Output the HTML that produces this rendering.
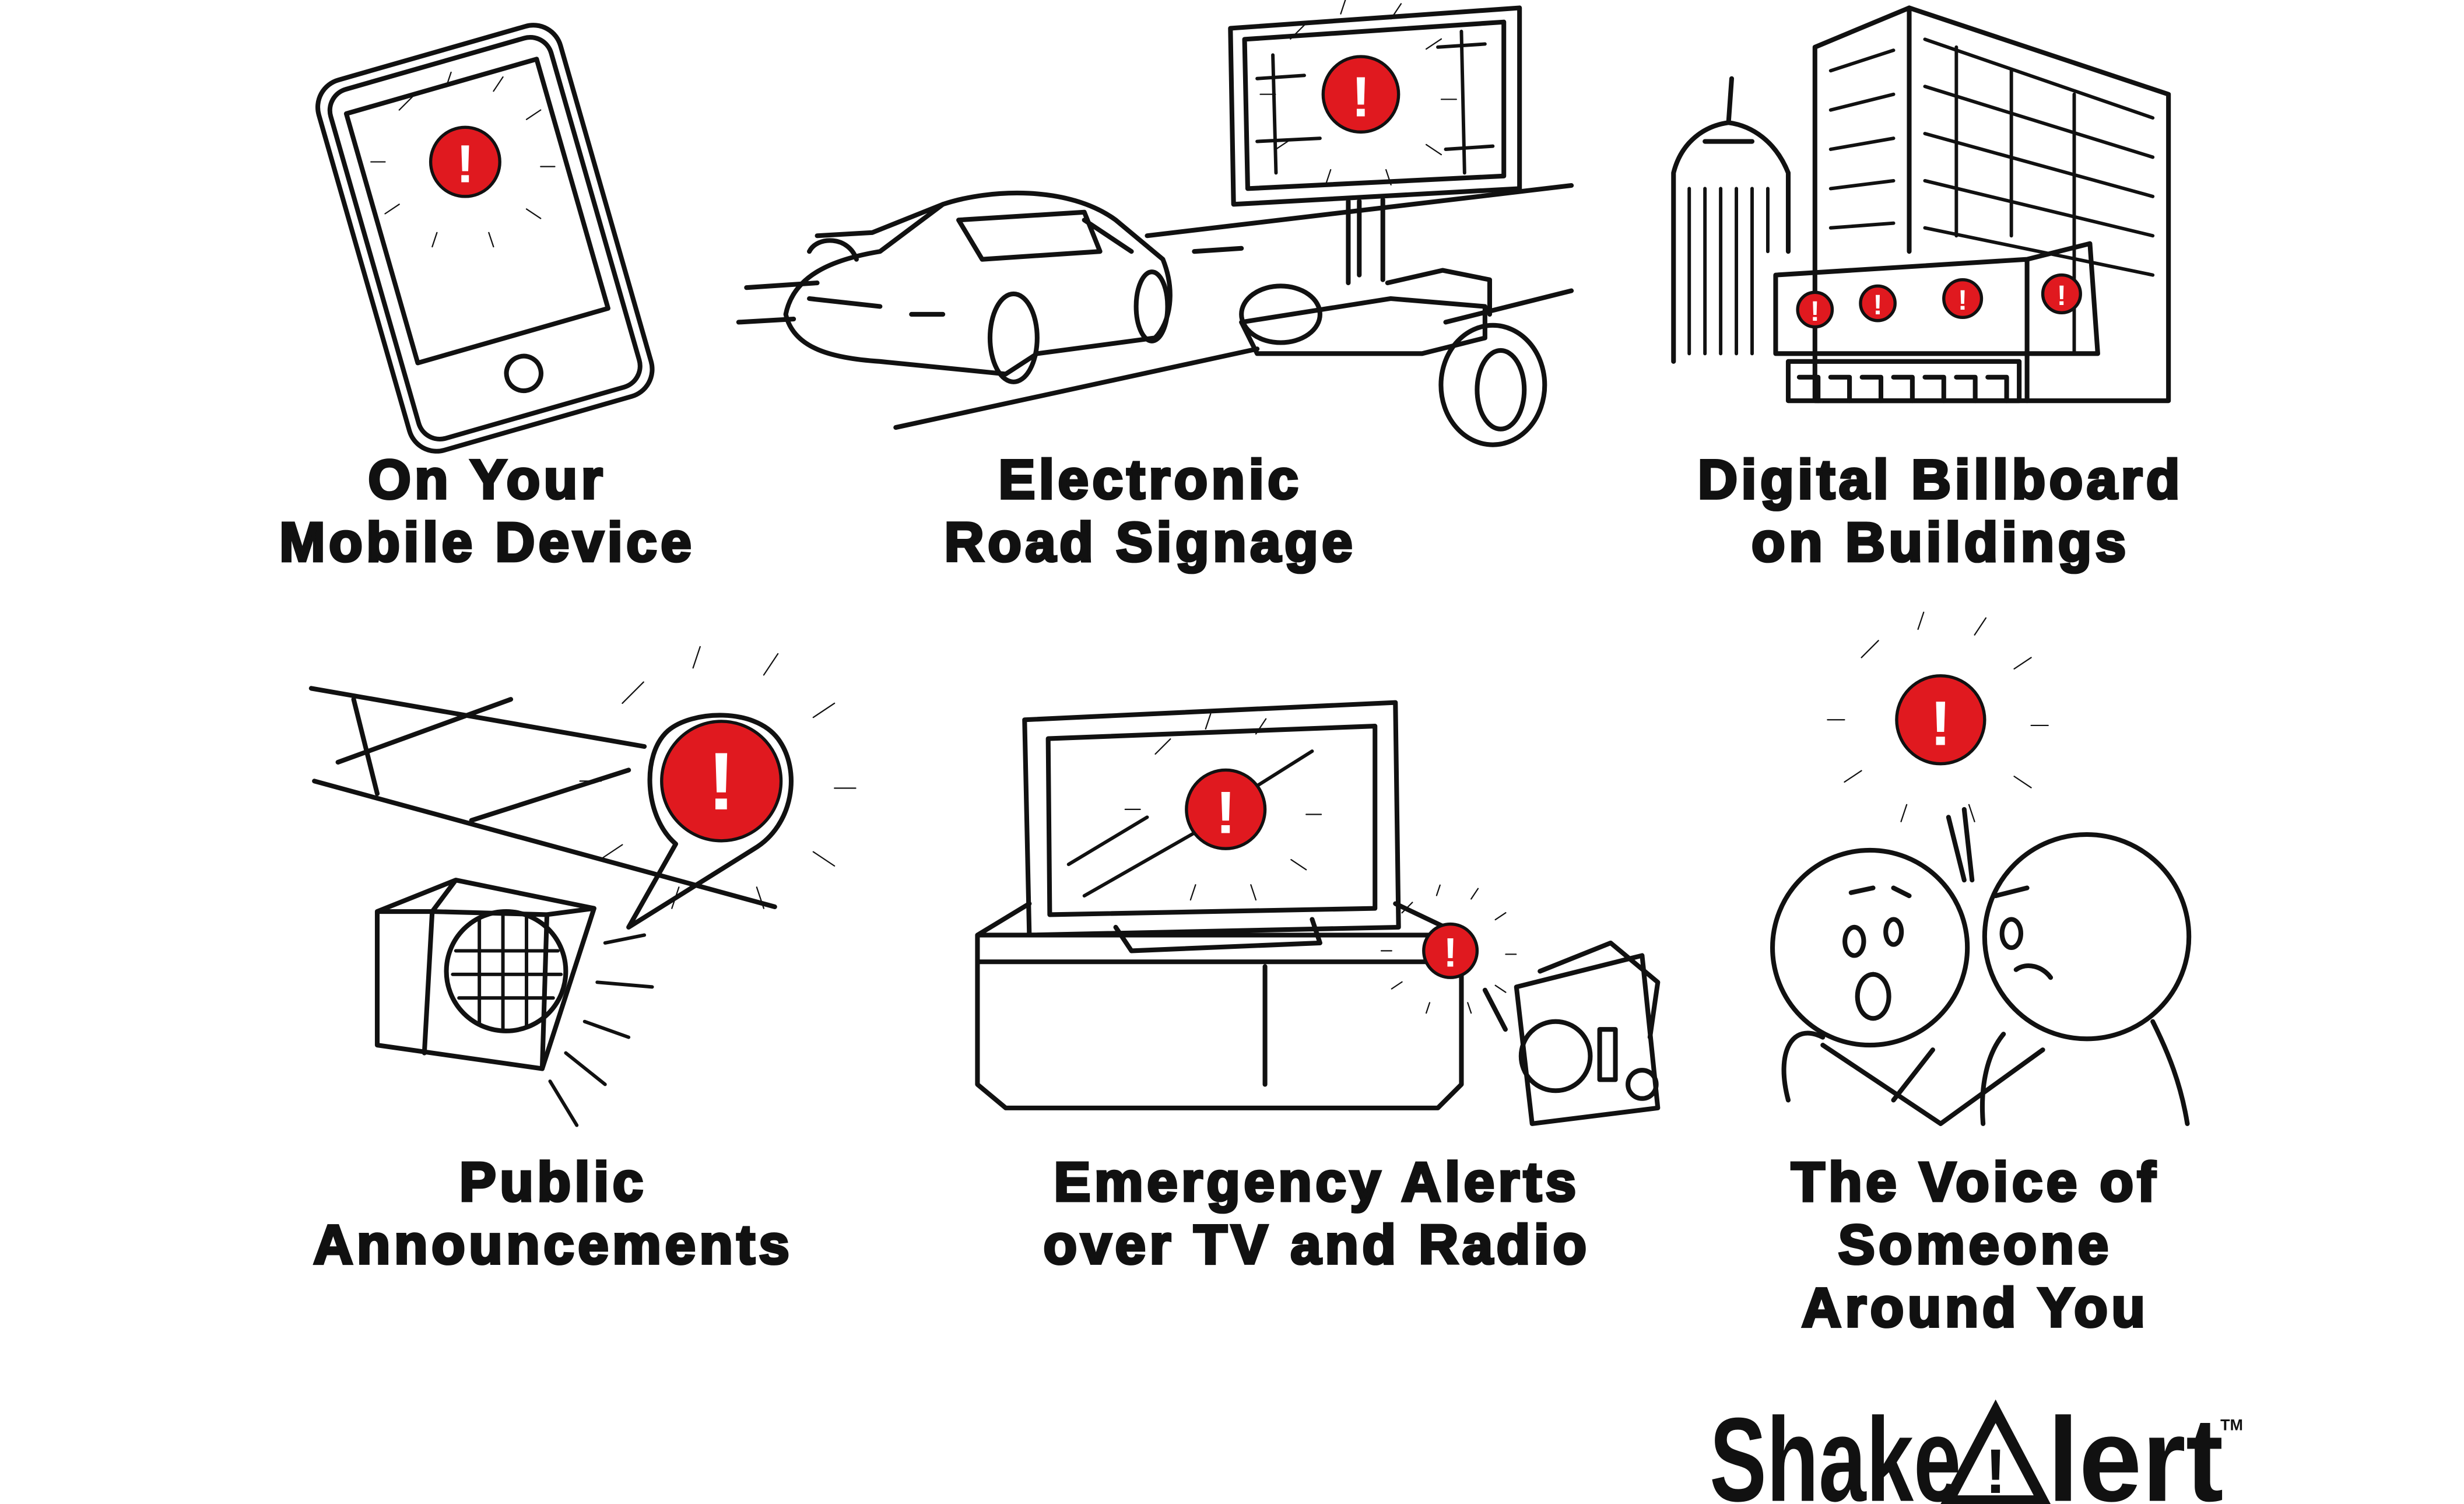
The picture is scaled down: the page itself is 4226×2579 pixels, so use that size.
<!DOCTYPE html>
<html><head><meta charset="utf-8"><style>
html,body{margin:0;padding:0;background:#fff;}
svg{display:block;}
.t{font-family:"Liberation Sans",Arial,sans-serif;font-weight:bold;font-size:35px;text-anchor:middle;fill:#111;letter-spacing:2.4px;stroke:#111;stroke-width:1.8px;}
.l{fill:none;stroke:#111;stroke-width:3;stroke-linecap:round;stroke-linejoin:round;}
.th{fill:none;stroke:#111;stroke-width:2.2;stroke-linecap:round;}
.rd{fill:#e0191f;stroke:#111;stroke-width:2;}
.ex{font-family:"Liberation Sans",sans-serif;font-weight:bold;fill:#fff;text-anchor:middle;}
</style></head><body>
<svg width="4226" height="2579" viewBox="0 0 1568 957" xmlns="http://www.w3.org/2000/svg">
<rect width="1568" height="957" fill="#fff"/>
<defs>
<g id="burst"><g class="th">
<path d="M-1.4,-1.1 l0.3,-0.3 M-0.4,-1.6 l0.1,-0.3 M0.6,-1.5 l0.2,-0.3 M1.3,-0.9 l0.3,-0.2 M1.6,0.1 l0.3,0 M1.3,1 l0.3,0.2 M0.5,1.5 l0.1,0.3 M-0.6,1.5 l-0.1,0.3 M-1.4,0.9 l-0.3,0.2 M-1.7,0 l-0.3,0" vector-effect="non-scaling-stroke"/>
</g></g>
</defs>

<!-- Phone -->
<g transform="rotate(-16 305 150)">
<rect x="228" y="30" width="160" height="245" rx="18" class="l"/>
<rect x="235" y="37" width="146" height="231" rx="14" class="l" stroke-width="2"/>
<rect x="245" y="52" width="126" height="165" class="l"/>
<circle cx="308" cy="242" r="11" class="l"/>
</g>
<circle cx="296" cy="103" r="22" class="rd"/>
<text x="296" y="116" class="ex" font-size="34">!</text>
<g transform="translate(296,103) scale(30)"><use href="#burst"/></g>

<!-- Road & car -->
<path d="M475,183 L520,180 M470,205 L505,203 M730,150 L1000,118 M760,160 L790,158 M570,272 L800,222 M920,205 L1000,185" class="l"/>
<path d="M500,200 C505,175 530,165 560,160 L600,130 C630,120 680,118 710,140 L740,165 C748,185 745,205 735,215 L660,225 L640,238 L560,230 C530,228 505,222 500,200 Z" class="l"/>
<path d="M520,150 L555,148 L600,130 M515,160 C520,150 540,150 545,165 M610,140 L690,135 L700,160 L625,165 Z M690,140 L720,160" class="l"/>
<ellipse cx="645" cy="215" rx="15" ry="28" class="l"/>
<ellipse cx="733" cy="195" rx="10" ry="22" class="l"/>
<path d="M515,190 L560,195 M580,200 L600,200" class="l"/>
<!-- Billboard -->
<path d="M783,18 L967,5 L967,120 L785,130 Z" class="l"/>
<path d="M792,25 L957,14 L957,112 L794,120 Z" class="l" stroke-width="2"/>
<path d="M800,50 L830,48 M800,90 L840,88 M915,30 L945,28 M920,95 L950,93 M930,20 L932,110 M810,35 L812,110" class="th"/>
<circle cx="866" cy="60" r="24" class="rd"/>
<text x="866" y="74" class="ex" font-size="36">!</text>
<g transform="translate(866,60) scale(32)"><use href="#burst"/></g>
<path d="M858,128 L858,180 M880,127 L880,178 M865,128 L865,175" class="l"/>
<path d="M790,205 L885,190 L945,195 L945,215 L905,225 L800,225 Z M883,180 L918,172 L948,178 L948,200" class="l"/>
<ellipse cx="815" cy="200" rx="25" ry="18" class="l"/>
<ellipse cx="950" cy="245" rx="33" ry="38" class="l"/>
<ellipse cx="955" cy="248" rx="15" ry="25" class="l"/>

<!-- Buildings -->
<path d="M1155,30 L1215,5 L1380,60 L1380,255 L1155,255 Z M1215,5 L1215,160" class="l"/>
<path d="M1165,45 L1205,32 M1165,70 L1205,60 M1165,95 L1205,88 M1165,120 L1205,115 M1165,145 L1205,142 M1225,25 L1370,75 M1225,55 L1370,100 M1225,85 L1370,125 M1225,115 L1370,150 M1225,145 L1370,175 M1320,60 L1320,225 M1280,45 L1280,150 M1245,30 L1245,150" class="th"/>
<path d="M1065,230 L1065,110 C1070,90 1085,80 1100,78 C1115,80 1130,90 1138,110 L1138,160 M1100,78 L1102,50 M1085,90 L1115,90" class="l"/>
<path d="M1075,120 L1075,225 M1085,120 L1085,225 M1095,120 L1095,225 M1105,120 L1105,225 M1115,120 L1115,225 M1125,120 L1125,160" class="th"/>
<path d="M1130,175 L1290,165 L1330,155 L1335,225 L1290,225 L1130,225 Z M1290,165 L1290,255 M1138,230 L1285,230 L1285,255 L1138,255 Z" class="l"/>
<path d="M1145,240 h12 v15 M1165,240 h12 v15 M1185,240 h12 v15 M1205,240 h12 v15 M1225,240 h12 v15 M1245,240 h12 v15 M1265,240 h12 v15" class="l" stroke-width="2.5"/>
<g>
<circle cx="1155" cy="197" r="11" class="rd"/><text x="1155" y="204" class="ex" font-size="18">!</text>
<circle cx="1195" cy="193" r="11" class="rd"/><text x="1195" y="200" class="ex" font-size="18">!</text>
<circle cx="1249" cy="190" r="12" class="rd"/><text x="1249" y="197" class="ex" font-size="18">!</text>
<circle cx="1312" cy="187" r="12" class="rd"/><text x="1312" y="194" class="ex" font-size="18">!</text>
</g>

<!-- Public announcements -->
<path d="M198,438 L410,475 M200,497 L493,577 M225,445 L240,505 M215,485 L325,445 M300,522 L400,490" class="l"/>
<path d="M240,580 L290,560 L378,578 L345,680 L240,665 Z M290,560 L275,580 M240,580 L275,580 L270,670 M378,578 L348,582" class="l"/>
<path d="M275,580 L348,582 L345,680" class="l"/>
<circle cx="322" cy="618" r="38" class="l"/>
<path d="M290,605 L355,605 M288,620 L357,620 M292,635 L352,635 M305,585 L305,652 M320,582 L320,655 M335,584 L335,654" class="th"/>
<path d="M350,688 L367,716 M360,670 L385,690 M372,650 L400,660 M380,625 L415,628 M385,600 L410,595" class="th"/>
<path d="M430,537 C410,520 408,480 425,465 C440,452 480,450 495,470 C510,490 505,525 480,540 L400,590 Z" class="l" stroke-width="2"/>
<circle cx="459" cy="497" r="38" class="rd"/>
<text x="459" y="515" class="ex" font-size="52">!</text>
<g transform="translate(459,497) scale(45)"><use href="#burst"/></g>

<!-- TV & radio -->
<path d="M652,458 L888,447 L890,590 L655,595 Z" class="l"/>
<path d="M667,470 L875,462 L875,578 L668,582 Z" class="l" stroke-width="2"/>
<path d="M680,550 L730,520 M690,570 L760,530 M800,500 L835,478" class="th"/>
<circle cx="780" cy="515" r="25" class="rd"/>
<text x="780" y="530" class="ex" font-size="38">!</text>
<g transform="translate(780,515) scale(32)"><use href="#burst"/></g>
<path d="M710,590 L720,605 L840,600 L835,585" class="l"/>
<path d="M622,595 L655,575 M888,575 L930,595 M622,595 L930,595 L930,690 L915,705 L640,705 L622,690 Z M622,612 L930,612 M805,615 L805,690" class="l"/>
<path d="M965,628 L1045,608 L1055,705 L975,715 Z M980,618 L1025,600 L1055,625 L1050,660" class="l"/>
<circle cx="990" cy="672" r="22" class="l"/>
<circle cx="1045" cy="690" r="9" class="l"/>
<rect x="1018" y="655" width="10" height="32" class="l"/>
<path d="M945,630 L958,655" class="l"/>
<circle cx="923" cy="605" r="17" class="rd"/>
<text x="923" y="615" class="ex" font-size="26">!</text>
<g transform="translate(923,605) scale(22)"><use href="#burst"/></g>

<!-- Faces -->
<circle cx="1190" cy="603" r="62" class="l"/>
<circle cx="1328" cy="596" r="65" class="l"/>
<path d="M1180,590 a6,9 0 1,0 0.1,0 M1205,585 a5,8 0 1,0 0.1,0 M1192,620 a10,14 0 1,0 0.1,0 M1178,568 L1192,565 M1205,565 L1215,570" class="l" stroke-width="2.5"/>
<path d="M1280,585 a6,9 0 1,0 0.1,0 M1283,617 C1290,612 1300,615 1305,622 M1270,570 L1290,565" class="l" stroke-width="2.5"/>
<path d="M1160,660 C1140,650 1130,670 1138,700 M1160,665 L1235,715 L1300,668 M1230,668 L1205,700 M1370,650 C1380,670 1388,690 1392,715 M1275,658 C1265,670 1260,690 1262,715" class="l"/>
<path d="M1250,560 L1240,520 M1255,560 L1250,515" class="l" stroke-width="2"/>
<circle cx="1235" cy="458" r="28" class="rd"/>
<text x="1235" y="474" class="ex" font-size="40">!</text>
<g transform="translate(1235,458) scale(36)"><use href="#burst"/></g>

<!-- Labels -->
<text class="t" x="310" y="317">On Your</text>
<text class="t" x="310" y="357">Mobile Device</text>
<text class="t" x="732" y="317">Electronic</text>
<text class="t" x="732" y="357">Road Signage</text>
<text class="t" x="1235" y="317">Digital Billboard</text>
<text class="t" x="1235" y="357">on Buildings</text>
<text class="t" x="352" y="764">Public</text>
<text class="t" x="352" y="804">Announcements</text>
<text class="t" x="838" y="764">Emergency Alerts</text>
<text class="t" x="838" y="804">over TV and Radio</text>
<text class="t" x="1257" y="764">The Voice of</text>
<text class="t" x="1257" y="804">Someone</text>
<text class="t" x="1257" y="844">Around You</text>

<!-- Logo -->
<text x="1088" y="955" font-family="Liberation Sans Narrow,Liberation Sans,sans-serif" font-weight="bold" font-size="76" fill="#111" textLength="160" lengthAdjust="spacingAndGlyphs">Shake</text>
<path d="M1270,898 L1300,955 L1240,955 Z" fill="none" stroke="#111" stroke-width="7"/>
<text x="1270" y="950" class="ex" font-size="40" style="fill:#111">!</text>
<text x="1303" y="955" font-family="Liberation Sans Narrow,Liberation Sans,sans-serif" font-weight="bold" font-size="76" fill="#111" textLength="112" lengthAdjust="spacingAndGlyphs">lert</text>
<text x="1413" y="910" font-family="Liberation Sans,sans-serif" font-weight="bold" font-size="10" fill="#111">TM</text>
</svg>
</body></html>
